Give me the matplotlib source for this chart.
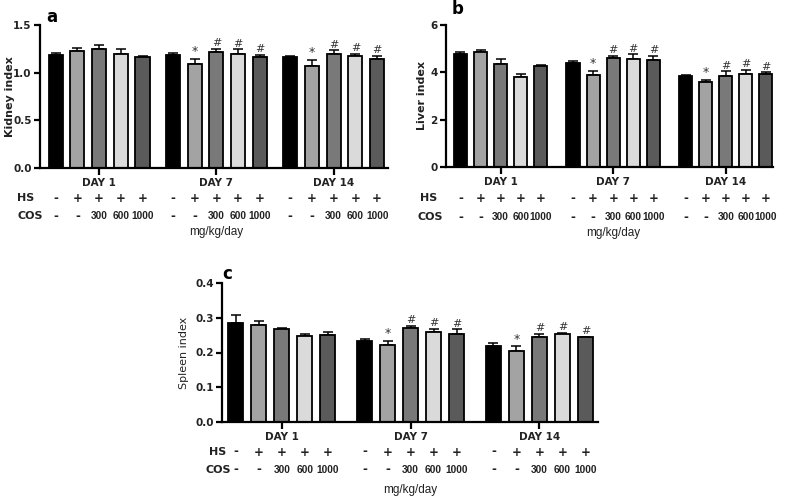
import matplotlib
matplotlib.use("Agg")
import matplotlib.pyplot as plt
import numpy as np
from matplotlib.transforms import blended_transform_factory

# ---------------- data ----------------
days = ["DAY 1", "DAY 7", "DAY 14"]
hs_signs = ["-", "+", "+", "+", "+"]
cos_labels = ["-", "-", "300", "600", "1000"]
sig_marks = [["", "", "", "", ""],
             ["", "*", "#", "#", "#"],
             ["", "*", "#", "#", "#"]]

kidney_mean = [[1.185, 1.227, 1.25, 1.195, 1.16],
               [1.185, 1.088, 1.22, 1.195, 1.16],
               [1.16, 1.073, 1.195, 1.175, 1.147]]
kidney_err = [[0.02, 0.03, 0.04, 0.05, 0.02],
              [0.025, 0.06, 0.03, 0.05, 0.025],
              [0.02, 0.06, 0.04, 0.02, 0.03]]

liver_mean = [[4.78, 4.88, 4.35, 3.79, 4.25],
              [4.39, 3.87, 4.60, 4.56, 4.53],
              [3.86, 3.58, 3.86, 3.93, 3.93]]
liver_err = [[0.07, 0.07, 0.20, 0.15, 0.07],
             [0.10, 0.20, 0.10, 0.20, 0.18],
             [0.03, 0.10, 0.18, 0.18, 0.07]]

spleen_mean = [[0.285, 0.279, 0.268, 0.247, 0.251],
               [0.232, 0.221, 0.270, 0.259, 0.254],
               [0.218, 0.204, 0.244, 0.254, 0.244]]
spleen_err = [[0.023, 0.013, 0.002, 0.007, 0.009],
              [0.007, 0.013, 0.006, 0.009, 0.013],
              [0.010, 0.014, 0.010, 0.003, 0.002]]

bar_colors = ["#000000", "#a3a3a3", "#797979", "#dadada", "#5a5a5a"]

W, H = 793, 500
fig = plt.figure(figsize=(W / 100, H / 100), dpi=100)
plt.rcParams['font.family'] = ['DejaVu Sans']
TXT = "#222222"


def px_axes(l, r, top, bottom):
    return fig.add_axes([l / W, 1 - bottom / H, (r - l) / W, (bottom - top) / H])


def panel(ax, means, errs, ylim, yticks, yticklabels, ylabel, ylabel_weight,
          ylabel_dx, letter, letter_xy, gstep, xlim, ax_px, rows_px):
    l, r, top, bottom = ax_px
    hpx = bottom - top
    wpx = r - l
    bw = 0.65
    for g in range(3):
        xs = g * gstep + np.arange(5)
        ax.bar(xs, means[g], width=bw, color=bar_colors, edgecolor="black",
               linewidth=1.3, zorder=2)
        ax.errorbar(xs, means[g], yerr=[np.zeros(5), errs[g]], fmt="none",
                    ecolor="black", elinewidth=1.1, capsize=3.5, capthick=1.1, zorder=1)
        for i in range(5):
            if sig_marks[g][i]:
                yv = means[g][i] + errs[g][i]
                ax.annotate(sig_marks[g][i], (xs[i], yv), xytext=(0, 0.5),
                            textcoords="offset points", ha="center", va="bottom",
                            fontsize=8 if sig_marks[g][i] == "#" else 9,
                            color="#333333")
    ax.set_xlim(*xlim)
    ax.set_ylim(*ylim)
    ax.set_yticks(yticks)
    ax.set_yticklabels(yticklabels, fontsize=7.5, fontweight="bold", color=TXT)
    centers = [g * gstep + 2 for g in range(3)]
    ax.set_xticks(centers)
    ax.set_xticklabels(days, fontsize=7.5, fontweight="bold", color=TXT)
    ax.tick_params(axis="x", length=5, width=1.6, pad=2)
    ax.tick_params(axis="y", length=4, width=1.6, pad=2)
    for s in ["top", "right"]:
        ax.spines[s].set_visible(False)
    for s in ["left", "bottom"]:
        ax.spines[s].set_linewidth(1.6)
    ax.set_ylabel(ylabel, fontsize=8, fontweight=ylabel_weight, color=TXT)
    ax.yaxis.set_label_coords(ylabel_dx / wpx, 0.5)

    hs_y, cos_y, unit_y, hs_dx, cos_dx = rows_px
    trans = blended_transform_factory(ax.transData, ax.transAxes)
    fy = lambda py: (bottom - py) / hpx
    for g in range(3):
        for i in range(5):
            x = g * gstep + i
            ax.text(x, fy(hs_y), hs_signs[i], transform=trans, ha="center",
                    va="center", fontsize=8.5, fontweight="bold", color=TXT)
            ax.text(x, fy(cos_y), cos_labels[i], transform=trans, ha="center",
                    va="center",
                    fontsize=8.5 if cos_labels[i] == "-" else 7.3,
                    fontweight="bold", color=TXT,
                    family="DejaVu Sans" if cos_labels[i] == "-" else "Liberation Sans")
    ax.text(hs_dx / wpx, fy(hs_y), "HS", transform=ax.transAxes, ha="left",
            va="center", fontsize=8, fontweight="bold", color=TXT)
    ax.text(cos_dx / wpx, fy(cos_y), "COS", transform=ax.transAxes, ha="left",
            va="center", fontsize=8, fontweight="bold", color=TXT)
    ax.text(centers[1], fy(unit_y), "mg/kg/day", transform=trans, ha="center",
            va="center", fontsize=8.5, color=TXT, family="Liberation Sans")
    fig.text(letter_xy[0] / W, 1 - letter_xy[1] / H, letter, fontsize=12,
             fontweight="bold", ha="left", va="center")


# panel a
pa = (40, 388, 25, 168)
axa = px_axes(*pa)
panel(axa, kidney_mean, kidney_err, (0, 1.5), [0, 0.5, 1.0, 1.5],
      ["0.0", "0.5", "1.0", "1.5"], "Kidney index", "bold", -25, "a", (46, 17),
      5.4, (-0.72, 15.3), pa, (198, 216, 232, -23, -23))

# panel b
pb = (446, 773, 25, 167)
axb = px_axes(*pb)
panel(axb, liver_mean, liver_err, (0, 6), [0, 2, 4, 6],
      ["0", "2", "4", "6"], "Liver index", "bold", -19, "b", (452, 9),
      5.6, (-0.72, 15.55), pb, (198, 217, 233, -26, -28))

# panel c
pc = (222, 598, 283, 422)
axc = px_axes(*pc)
panel(axc, spleen_mean, spleen_err, (0, 0.4), [0.0, 0.1, 0.2, 0.3, 0.4],
      ["0.0", "0.1", "0.2", "0.3", "0.4"], "Spleen index", "normal", -33, "c", (222, 274),
      5.6, (-0.6, 15.75), pc, (452, 470, 490, -13, -16))

fig.savefig("out.png", dpi=100)
